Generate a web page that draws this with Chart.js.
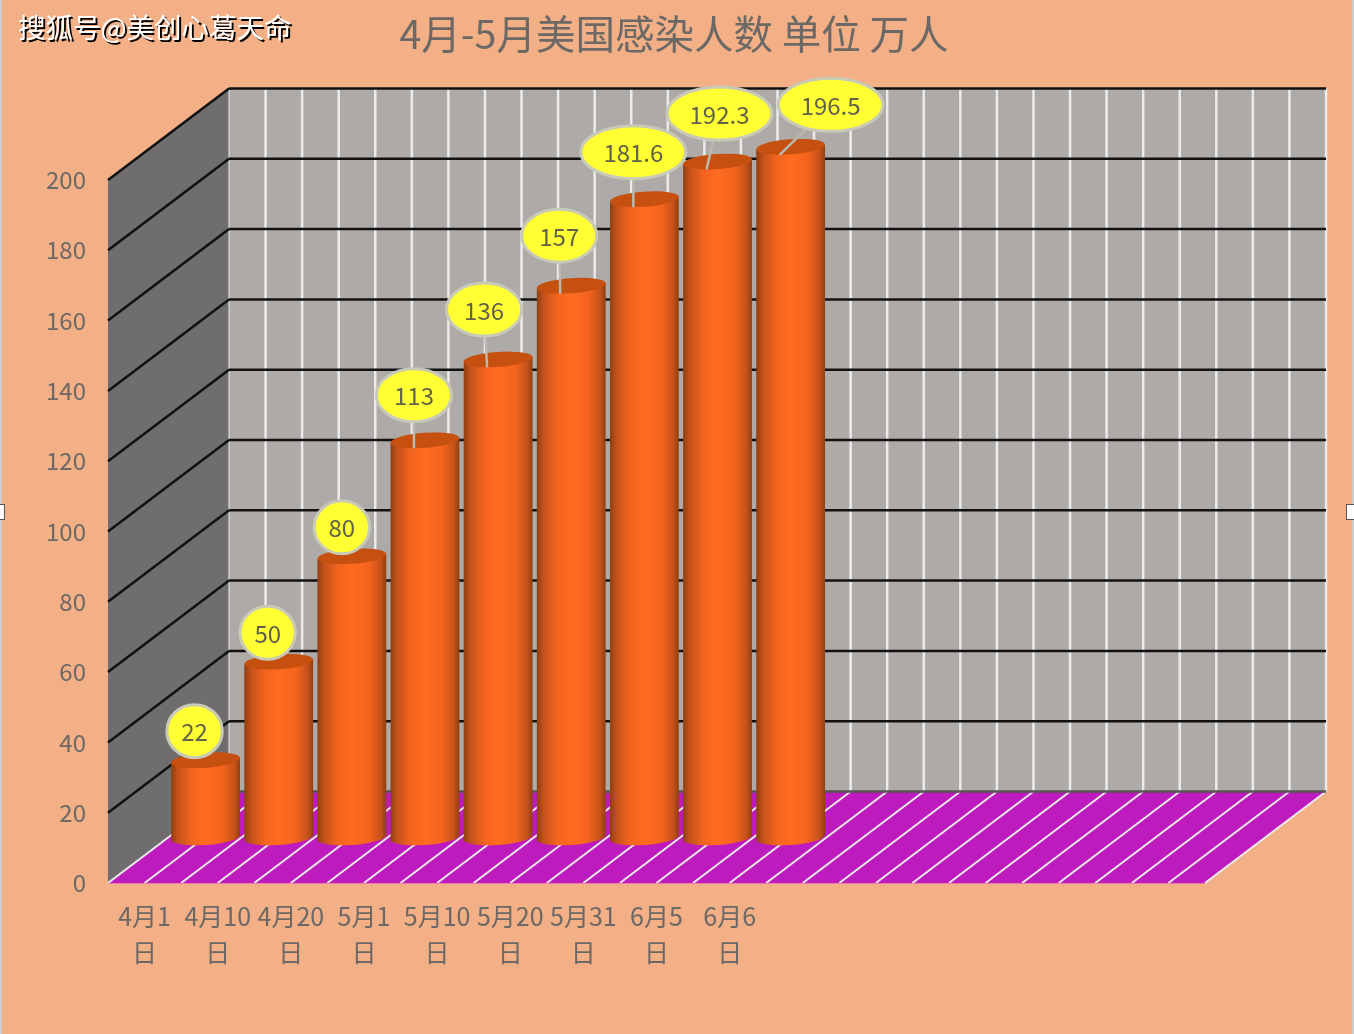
<!DOCTYPE html>
<html>
<head>
<meta charset="utf-8">
<title>4月-5月美国感染人数</title>
<script src="https://cdn.jsdelivr.net/npm/chart.js@4/dist/chart.umd.js"></script>
<style>
  html, body { margin: 0; padding: 0; background: #f3af85; overflow: hidden; }
  canvas { display: block; }
</style>
</head>
<body>
<canvas id="chart" width="1354" height="1034"></canvas>
<script>
// the values
var categories = ['4月1 日', '4月10 日', '4月20 日', '5月1 日', '5月10 日', '5月20 日', '5月31 日', '6月5 日', '6月6 日', '', '', '', '', '', ''];
var infected = [22, 50, 80, 113, 136, 157, 181.6, 192.3, 196.5];
var titleText = '4月-5月美国感染人数 单位 万人';
var watermark = '搜狐号@美创心葛天命';

// depth of the fake 3d box, in px
var depthX = 121;
var depthY = -91.5;
// bars stand half way in the box
var barDepthX = 61;
var barDepthY = -45.5;

// where each bubble sits relative to the top of its bar
var bubbleOffsets = [[-11, -29], [-11, -29], [-10, -29], [-11, -45], [-14, -50], [-12, -50], [-11, -47], [2, -48], [40, -42]];

var fontName = '"Noto Sans CJK SC", "Noto Sans", sans-serif';
var textColor = '#6b6866';

function line(ctx, x1, y1, x2, y2) {
  ctx.beginPath();
  ctx.moveTo(x1, y1);
  ctx.lineTo(x2, y2);
  ctx.stroke();
}

function drawBox(chart) {
  var ctx = chart.ctx;
  var xs = chart.scales.x;
  var ys = chart.scales.y;
  var left = xs.left, right = xs.right;
  var top = ys.getPixelForValue(200), bottom = ys.getPixelForValue(0);
  var step = (right - left) / categories.length / 2;
  var i;

  ctx.save();
  // side wall
  ctx.fillStyle = '#6f6d6d';
  ctx.beginPath();
  ctx.moveTo(left, bottom);
  ctx.lineTo(left, top);
  ctx.lineTo(left + depthX, top + depthY);
  ctx.lineTo(left + depthX, bottom + depthY);
  ctx.closePath();
  ctx.fill();

  // back wall
  ctx.fillStyle = '#aeaaa8';
  ctx.fillRect(left + depthX, top + depthY, right - left, bottom - top);

  // floor
  ctx.fillStyle = '#bd1bbd';
  ctx.beginPath();
  ctx.moveTo(left, bottom);
  ctx.lineTo(left + depthX, bottom + depthY);
  ctx.lineTo(right + depthX, bottom + depthY);
  ctx.lineTo(right, bottom);
  ctx.closePath();
  ctx.fill();

  // white lines on the wall and the floor
  ctx.strokeStyle = '#ecebeb';
  for (i = 0; i <= categories.length * 2; i++) {
    var x = left + i * step;
    ctx.lineWidth = i === 0 ? 1 : 2.5;
    line(ctx, x + depthX, top + depthY, x + depthX, bottom + depthY);
    ctx.lineWidth = 2;
    line(ctx, x, bottom, x + depthX, bottom + depthY);
  }

  // black value lines, one per tick
  ctx.strokeStyle = '#111';
  ctx.lineWidth = 2.5;
  ys.ticks.forEach(function (t) {
    if (t.value === 0) return;
    var y = ys.getPixelForValue(t.value);
    line(ctx, left, y, left + depthX, y + depthY);
    line(ctx, left + depthX, y + depthY, right + depthX, y + depthY);
  });
  ctx.strokeStyle = '#555';
  line(ctx, left + depthX, bottom + depthY, right + depthX, bottom + depthY);
  ctx.strokeStyle = '#f07aa8';
  ctx.lineWidth = 1;
  line(ctx, left, bottom + 0.5, right, bottom + 0.5);
  ctx.restore();
}

function drawCylinder(ctx, bar) {
  var cx = bar.x + barDepthX;
  var topY = bar.y + barDepthY;
  var botY = bar.base + barDepthY;
  var rx = bar.width / 2;
  var ry = 7.5;
  var rot = -4 * Math.PI / 180;
  var tipX = rx * Math.cos(rot), tipY = rx * Math.sin(rot);

  var grad = ctx.createLinearGradient(cx - rx, 0, cx + rx, 0);
  grad.addColorStop(0, '#8f3e10');
  grad.addColorStop(0.1, '#c5521a');
  grad.addColorStop(0.3, '#f4641e');
  grad.addColorStop(0.5, '#ff6b20');
  grad.addColorStop(0.75, '#f4641e');
  grad.addColorStop(0.92, '#c5521a');
  grad.addColorStop(1, '#8f3e10');

  ctx.fillStyle = grad;
  ctx.beginPath();
  ctx.moveTo(cx - tipX, topY - tipY);
  ctx.lineTo(cx - tipX, botY - tipY);
  ctx.ellipse(cx, botY, rx, ry, rot, Math.PI, 0, true);
  ctx.lineTo(cx + tipX, topY + tipY);
  ctx.closePath();
  ctx.fill();

  ctx.fillStyle = '#c5500f';
  ctx.beginPath();
  ctx.ellipse(cx, topY, rx, ry, rot, 0, Math.PI * 2);
  ctx.fill();
}

function drawBubble(ctx, bar, value, offset) {
  var cx = bar.x + barDepthX;
  var topY = bar.y + barDepthY;
  var bx = cx + offset[0];
  var by = topY + offset[1];
  var text = String(value);

  ctx.font = '24px ' + fontName;
  var rx = ctx.measureText(text).width * 0.74 + 8;
  var ry = 26.5;

  // leader line, only when the bubble has come away from the bar
  if (offset[1] < -35) {
    ctx.strokeStyle = '#b9b9b0';
    ctx.lineWidth = 2.5;
    line(ctx, cx - 11, topY + 8, bx, by);
  }

  ctx.fillStyle = '#ffff33';
  ctx.strokeStyle = '#c9c9b8';
  ctx.lineWidth = 3;
  ctx.beginPath();
  ctx.ellipse(bx, by, rx, ry, 0, 0, Math.PI * 2);
  ctx.fill();
  ctx.stroke();

  ctx.fillStyle = '#62624a';
  ctx.textAlign = 'center';
  ctx.textBaseline = 'middle';
  ctx.fillText(text, bx, by + 1);
}

var box3d = {
  id: 'box3d',
  beforeDatasetsDraw: function (chart) {
    drawBox(chart);
  },
  afterDatasetsDraw: function (chart) {
    var ctx = chart.ctx;
    var bars = chart.getDatasetMeta(0).data;
    ctx.save();
    bars.forEach(function (bar) {
      drawCylinder(ctx, bar);
    });
    bars.forEach(function (bar, i) {
      drawBubble(ctx, bar, infected[i], bubbleOffsets[i]);
    });
    ctx.restore();
  },
  afterDraw: function (chart) {
    var ctx = chart.ctx;
    ctx.save();
    // watermark
    ctx.font = '27.5px ' + fontName;
    ctx.textAlign = 'left';
    ctx.textBaseline = 'alphabetic';
    ctx.fillStyle = '#000';
    ctx.fillText(watermark, 20, 40);
    ctx.fillStyle = '#fff';
    ctx.fillText(watermark, 18, 38);

    // the frame and the selection handles of the screenshot
    ctx.fillStyle = '#cfcdcb';
    ctx.fillRect(0, 0, 2, 1034);
    ctx.fillRect(1352, 0, 2, 1034);
    ctx.fillStyle = '#fff';
    ctx.strokeStyle = '#555';
    ctx.lineWidth = 1;
    ctx.fillRect(-3, 504, 8, 15);
    ctx.strokeRect(-3.5, 504.5, 8, 15);
    ctx.fillRect(1346, 504, 10, 15);
    ctx.strokeRect(1346.5, 504.5, 10, 15);
    ctx.restore();
  }
};

var config = {
  type: 'bar',
  data: {
    labels: categories.map(function (c) { return c.split(' '); }),
    datasets: [{
      data: infected,
      backgroundColor: 'rgba(0,0,0,0)',
      borderWidth: 0,
      barPercentage: 0.943,
      categoryPercentage: 1
    }]
  },
  plugins: [box3d, {
    id: 'paper',
    beforeDraw: function (chart) {
      chart.ctx.fillStyle = '#f3af85';
      chart.ctx.fillRect(0, 0, chart.width, chart.height);
    }
  }],
  options: {
    responsive: false,
    animation: false,
    layout: { padding: { right: 6 } },
    plugins: {
      legend: { display: false },
      tooltip: { enabled: false },
      title: {
        display: true,
        text: titleText,
        color: textColor,
        font: { family: fontName, size: 39.5, weight: 'normal' },
        padding: { top: 10, bottom: 122.6 }
      }
    },
    scales: {
      x: {
        grid: { display: false, drawTicks: false },
        border: { display: false },
        ticks: {
          autoSkip: false,
          maxRotation: 0,
          minRotation: 0,
          padding: 16,
          color: textColor,
          font: { family: fontName, size: 25, lineHeight: 1.42 }
        },
        afterFit: function (scale) { scale.height = 151; }
      },
      y: {
        min: 0,
        max: 200,
        grid: { display: false, drawTicks: false },
        border: { display: false },
        ticks: {
          stepSize: 20,
          padding: 22,
          color: textColor,
          font: { family: fontName, size: 24 }
        },
        afterFit: function (scale) { scale.width = 108; }
      },
      // empty axis, keeps the room on the right without narrowing the title
      gap: {
        position: 'right',
        grid: { display: false, drawTicks: false },
        border: { display: false },
        ticks: { display: false },
        afterFit: function (scale) { scale.width = 143; }
      }
    }
  }
};

window.onload = function () {
  var ctx = document.getElementById('chart').getContext('2d');
  window.myChart = new Chart(ctx, config);
};
</script>
</body>
</html>
